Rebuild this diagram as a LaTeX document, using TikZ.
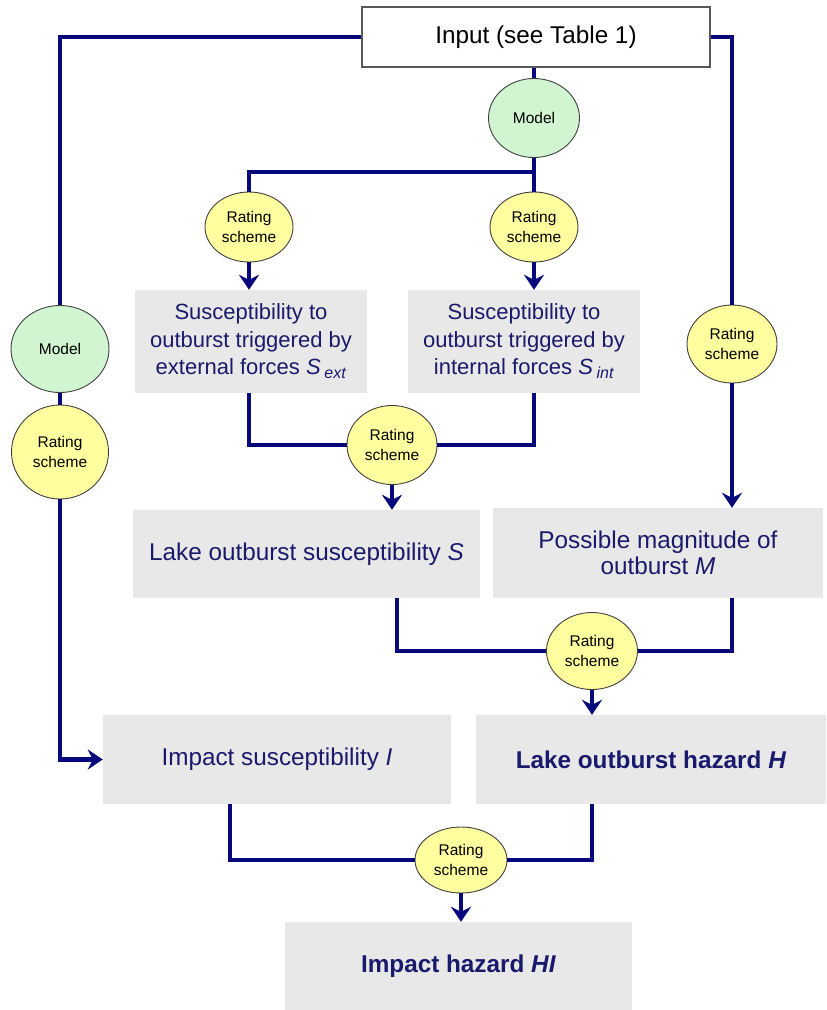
\documentclass[tikz,border=0pt]{standalone}
\usepackage{fontspec}
\setmainfont{Liberation Sans}
\usetikzlibrary{shapes.geometric,arrows.meta}
\definecolor{linecol}{RGB}{8,8,125}
\definecolor{txtcol}{RGB}{26,26,108}
\definecolor{boxgray}{RGB}{232,232,232}
\definecolor{ryellow}{RGB}{255,255,160}
\definecolor{mgreen}{RGB}{208,245,208}
\tikzset{
  gbox/.style={rectangle, fill=boxgray, text=txtcol, align=center, inner sep=0pt},
  bigtxt/.style={font=\fontsize{24.3}{26.5}\selectfont},
  smalltxt/.style={font=\fontsize{22}{27.5}\selectfont},
  rate/.style={ellipse, draw=black!75, line width=0.9pt, fill=ryellow, inner sep=0pt, align=center,
    font=\fontsize{15.5}{20}\selectfont},
  modelnode/.style={ellipse, draw=black!75, line width=0.9pt, fill=mgreen, inner sep=0pt, align=center,
    font=\fontsize{15.5}{19}\selectfont},
  conn/.style={draw=linecol, line width=4.2pt},
  arr/.style={conn, -{Stealth[length=15pt, width=20pt, inset=5pt]}},
}
\begin{document}
\begin{tikzpicture}[x=1pt,y=-1pt]
\useasboundingbox (0,0) rectangle (827,1010);
% boxes
\node[rectangle, draw=black!65, line width=1.2pt, fill=white, minimum width=348pt, minimum height=60pt,
  font=\fontsize{24.3}{28}\selectfont] (input) at (536,37) {Input (see Table 1)};
\node[gbox, smalltxt, minimum width=232pt, minimum height=103pt] (sext) at (251,341.5)
  {Susceptibility to\\outburst triggered by\\external forces \textit{S}\,\raisebox{-0.35ex}{\fontsize{16}{18}\selectfont\textit{ext}}};
\node[gbox, smalltxt, minimum width=232pt, minimum height=103pt] (sint) at (524,341.5)
  {Susceptibility to\\outburst triggered by\\internal forces \textit{S}\,\raisebox{-0.35ex}{\fontsize{16}{18}\selectfont\textit{int}}};
\node[gbox, bigtxt, minimum width=347pt, minimum height=88pt] (lakeS) at (306.5,554)
  {Lake outburst susceptibility \textit{S}};
\node[gbox, bigtxt, minimum width=330pt, minimum height=90pt] (possM) at (658,553)
  {Possible magnitude of\\outburst \textit{M}};
\node[gbox, bigtxt, minimum width=348pt, minimum height=89pt] (impact) at (277,759.5)
  {Impact susceptibility \textit{I}};
\node[gbox, bigtxt, minimum width=350pt, minimum height=89pt] (lakeH) at (651,759.5)
  {\textbf{Lake outburst hazard \textit{H}}};
\node[gbox, bigtxt, minimum width=347pt, minimum height=88pt] (hazard) at (458.5,966)
  {\textbf{Impact hazard \textit{HI}}};
% ellipses
\node[modelnode, minimum width=91pt, minimum height=79pt] (modelT) at (534,118) {Model};
\node[rate, minimum width=88pt, minimum height=70pt] (rate1) at (249,227) {Rating\\scheme};
\node[rate, minimum width=88pt, minimum height=70pt] (rate2) at (534,227) {Rating\\scheme};
\node[rate, minimum width=90pt, minimum height=78pt] (rateR) at (732,344) {Rating\\scheme};
\node[modelnode, minimum width=98pt, minimum height=87pt] (modelL) at (60,349) {Model};
\node[rate, minimum width=97pt, minimum height=94pt] (rateL) at (60,452) {Rating\\scheme};
\node[rate, minimum width=90pt, minimum height=79pt] (rate3) at (392,445) {Rating\\scheme};
\node[rate, minimum width=91pt, minimum height=77pt] (rate4) at (592,651) {Rating\\scheme};
\node[rate, minimum width=92pt, minimum height=66pt] (rate5) at (461,860) {Rating\\scheme};
% coordinates
\coordinate (j1) at (534,172);
\coordinate (lS) at (397,598);
\coordinate (iS) at (230,804);
% connectors
\draw[conn] (input.west) -| (modelL.north);
\draw[conn] (modelL.south) -- (rateL.north);
\draw[arr] (rateL.south) |- (impact.west);
\draw[conn] (input.east) -| (rateR.north);
\draw[arr] (rateR.south) -- (rateR.south |- possM.north);
\draw[conn] (input.south -| modelT) -- (modelT.north);
\draw[conn] (modelT.south) -- (j1) -- (rate2.north);
\draw[conn] (j1) -| (rate1.north);
\draw[arr] (rate1.south) -- (rate1.south |- sext.north);
\draw[arr] (rate2.south) -- (rate2.south |- sint.north);
\draw[conn] (sext.south -| rate1) |- (rate3.west);
\draw[conn] (sint.south -| rate2) |- (rate3.east);
\draw[arr] (rate3.south) -- (rate3.south |- lakeS.north);
\draw[conn] (lS) |- (rate4.west);
\draw[conn] (possM.south -| rateR) |- (rate4.east);
\draw[arr] (rate4.south) -- (rate4.south |- lakeH.north);
\draw[conn] (iS) |- (rate5.west);
\draw[conn] (lakeH.south -| rate4) |- (rate5.east);
\draw[arr] (rate5.south) -- (rate5.south |- hazard.north);
\end{tikzpicture}
\end{document}
